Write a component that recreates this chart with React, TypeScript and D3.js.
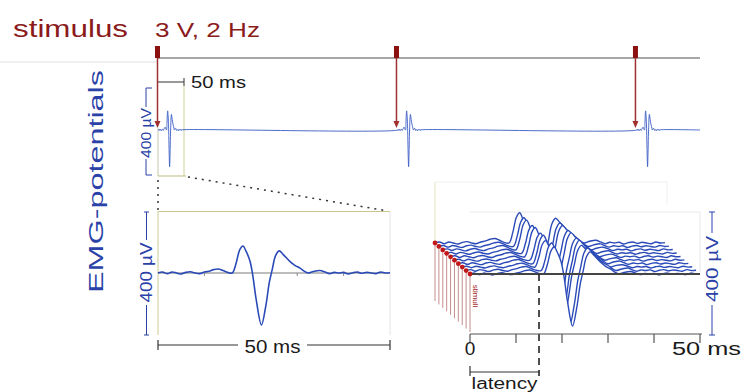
import React from 'react';
import * as d3 from 'd3';

// EMG response template: time after stimulus (ms) and potential (µV)
const emgTime = [0, 1, 2, 3, 4, 5, 6, 7, 8, 9, 10, 11, 12, 13, 14, 15, 16, 16.8, 17.6, 18.3, 19, 19.8, 20.4, 21.2, 22.3, 23.2, 24, 24.6, 25.3, 26.1, 27, 28.4, 29.5, 30.6, 31.5, 32.3, 33.5, 34.9, 36, 37, 38, 39, 40, 41, 42, 43, 44, 45, 46, 47, 48, 49, 50];
const emgValue = [0, 3, -2, 3, 0, -3, 2, 4, 0, -2, 3, 6, 11, 13, 8, 2, 0, 30, 75, 88, 70, 40, -5, -90, -169, -110, -30, 10, 55, 72, 60, 38, 25, 16, 6, 0, 5, 8, 3, -2, 2, 0, 2, -3, 1, 3, -1, 2, 0, -2, 3, 0, 1];

// stimulus train (ms), 2 Hz
const stimulusTimes = [0, 500, 1000];
const sweepEnd = 1134;

// waterfall sweeps (front -> back)
const sweepAmp = [1.0, 1.02, 0.98, 1.05, 1.0, 1.08, 1.03, 1.1, 1.06, 1.12];
const sweepShift = [0, 0.3, -0.2, 0.2, 0.4, 0.1, 0.3, -0.1, 0.2, 0.1];

const axisTicks = [0, 10, 20, 30, 40, 50];
const zoomTicks = [10, 30, 40];
const latencyMs = 15;

const FONT = "'Liberation Sans', Arial, sans-serif";
const RED = '#8b1a1a';
const BLUE = '#2a42a8';
const TRACE = '#2a4ab8';

export default function App() {
  const tpl = emgTime.map((t, i) => [t, emgValue[i]] as [number, number]);

  // ---- top sweep ----
  const topX = d3.scaleLinear().domain([0, sweepEnd]).range([158, 700]);
  const topY = d3.scaleLinear().domain([0, 400]).range([130, 43]);
  const topData: [number, number][] = [];
  stimulusTimes.forEach((s) => tpl.forEach(([t, v]) => topData.push([s + t + 2, v])));
  topData.unshift([0, 0]);
  topData.push([sweepEnd, 0]);
  const topLine = d3
    .line<[number, number]>()
    .x((d) => topX(d[0]))
    .y((d) => topY(d[1]))
    .curve(d3.curveCatmullRom);

  // ---- zoomed panel ----
  const zX = d3.scaleLinear().domain([0, 50]).range([158, 390]);
  const zY = d3.scaleLinear().domain([0, 400]).range([273, 150]);
  const zLine = d3
    .line<[number, number]>()
    .x((d) => zX(d[0]))
    .y((d) => zY(d[1]))
    .curve(d3.curveCatmullRom);

  // ---- waterfall ----
  const wX = d3.scaleLinear().domain([0, 50]).range([470, 700]);
  const wY = d3.scaleLinear().domain([0, 400]).range([274, 151]);
  const depthX = d3.scaleLinear().domain([0, 9]).range([0, -35]);
  const depthY = d3.scaleLinear().domain([0, 9]).range([0, -31]);
  const sweeps = sweepAmp.map((a, k) => {
    const pts = tpl.map(([t, v]) => {
      const tt = t > 15 && t < 35 ? t + sweepShift[k] : t;
      return [wX(tt) + depthX(k), wY(v * a) + depthY(k), wY(0) + depthY(k) + 60] as [number, number, number];
    });
    return pts;
  });
  const wArea = d3
    .area<[number, number, number]>()
    .x((d) => d[0])
    .y1((d) => d[1])
    .y0((d) => d[2])
    .curve(d3.curveCatmullRom);
  const wLine = d3
    .line<[number, number, number]>()
    .x((d) => d[0])
    .y((d) => d[1])
    .curve(d3.curveCatmullRom);
  const order = sweepAmp.map((_, k) => k).reverse();
  const latX = wX(latencyMs);

  return (
    <svg width={742} height={392} style={{ position: 'absolute', left: 0, top: 0, background: '#fff' }} fontFamily={FONT}>
      <rect x={0} y={0} width={742} height={392} fill="#fff" />

      {/* ---- titles ---- */}
      <text x={13} y={37} fontSize={23} fill={RED} textLength={115} lengthAdjust="spacingAndGlyphs">stimulus</text>
      <text x={155} y={37} fontSize={21} fill={RED} textLength={105} lengthAdjust="spacingAndGlyphs">3 V, 2 Hz</text>
      <text transform="translate(103,181.5) rotate(-90)" textAnchor="middle" fontSize={21} fill={BLUE} textLength={223} lengthAdjust="spacingAndGlyphs">EMG-potentials</text>

      {/* ---- stimulus line ---- */}
      <line x1={0} x2={158} y1={62} y2={62} stroke="#e0e0e0" strokeWidth={1} />
      <line x1={158} x2={700} y1={58} y2={58} stroke="#8a8a8a" strokeWidth={1.5} />
      {stimulusTimes.map((s) => {
        const x = topX(s) - 0.5;
        return (
          <g key={s}>
            <rect x={x - 2.5} y={46} width={5} height={12} fill="#8b1010" />
            <line x1={x} x2={x} y1={58} y2={122} stroke="#a03030" strokeWidth={1.5} />
            <polygon points={`${x - 3},${121} ${x + 3},${121} ${x},${128}`} fill="#a03030" />
          </g>
        );
      })}

      {/* 50 ms scale bar top */}
      <line x1={158} x2={184} y1={82} y2={82} stroke="#333" strokeWidth={1} />
      <line x1={184} x2={184} y1={78} y2={86} stroke="#333" strokeWidth={1} />
      <text x={191} y={88} fontSize={17} fill="#1a1a1a" textLength={55} lengthAdjust="spacingAndGlyphs">50 ms</text>

      {/* zoom box */}
      <line x1={184} x2={184} y1={86} y2={176} stroke="#d0d098" strokeWidth={1} />
      <line x1={158} x2={186} y1={176} y2={176} stroke="#c8c890" strokeWidth={1.2} />
      <line x1={158} x2={158} y1={128} y2={176} stroke="#c8c8a8" strokeWidth={1} />
      <line x1={158} x2={158} y1={180} y2={210} stroke="#333" strokeWidth={1.5} strokeDasharray="2 5" />
      <line x1={188} x2={388} y1={177} y2={211} stroke="#333" strokeWidth={1.5} strokeDasharray="2 5" />

      {/* top 400 µV */}
      <line x1={146} x2={146} y1={88} y2={107} stroke={BLUE} strokeWidth={1} />
      <line x1={146} x2={146} y1={159} y2={175} stroke={BLUE} strokeWidth={1} />
      <line x1={146} x2={152} y1={88} y2={88} stroke={BLUE} strokeWidth={1} />
      <line x1={146} x2={152} y1={175} y2={175} stroke={BLUE} strokeWidth={1} />
      <text transform="translate(150.5,133) rotate(-90)" textAnchor="middle" fontSize={14} fill={BLUE} textLength={50} lengthAdjust="spacingAndGlyphs">400 µV</text>

      {/* top trace */}
      <path d={topLine(topData) || ''} fill="none" stroke="#3a5cc4" strokeWidth={1} strokeOpacity={0.9} />

      {/* ---- zoomed panel ---- */}
      <line x1={158} x2={390} y1={211.5} y2={211.5} stroke="#c8c88a" strokeWidth={1.2} />
      <line x1={158} x2={158} y1={211} y2={335} stroke="#d4d4a4" strokeWidth={1.2} />
      <line x1={390} x2={390} y1={211} y2={335} stroke="#e4e4e4" strokeWidth={1} />
      <line x1={158} x2={390} y1={273} y2={273} stroke="#7a7a7a" strokeWidth={1} />
      {zoomTicks.map((t) => (
        <line key={t} x1={zX(t)} x2={zX(t)} y1={273} y2={276} stroke="#888" strokeWidth={1} />
      ))}
      <path d={zLine(tpl) || ''} fill="none" stroke={TRACE} strokeWidth={1.6} />

      {/* zoom 400 µV */}
      <line x1={146.5} x2={146.5} y1={212} y2={240} stroke={BLUE} strokeWidth={1} />
      <line x1={146.5} x2={146.5} y1={305} y2={335} stroke={BLUE} strokeWidth={1} />
      <line x1={144} x2={149} y1={212} y2={212} stroke={BLUE} strokeWidth={1} />
      <line x1={144} x2={149} y1={335} y2={335} stroke={BLUE} strokeWidth={1} />
      <text transform="translate(151.5,272.5) rotate(-90)" textAnchor="middle" fontSize={16} fill={BLUE} textLength={60} lengthAdjust="spacingAndGlyphs">400 µV</text>

      {/* zoom 50 ms */}
      <line x1={158} x2={238} y1={345} y2={345} stroke="#333" strokeWidth={1.2} />
      <line x1={307} x2={390} y1={345} y2={345} stroke="#333" strokeWidth={1.2} />
      <line x1={158} x2={158} y1={340} y2={350} stroke="#333" strokeWidth={1.2} />
      <line x1={390} x2={390} y1={340} y2={350} stroke="#333" strokeWidth={1.2} />
      <text x={272.5} y={353} textAnchor="middle" fontSize={19} fill="#1a1a1a" textLength={56} lengthAdjust="spacingAndGlyphs">50 ms</text>

      {/* ---- waterfall ---- */}
      <line x1={435} x2={435} y1={182} y2={243} stroke="#e6e2c0" strokeWidth={1} />
      <line x1={435} x2={667} y1={182} y2={182} stroke="#efefef" strokeWidth={1} />
      <line x1={667} x2={667} y1={182} y2={205} stroke="#efefef" strokeWidth={1} />
      <line x1={470} x2={700} y1={212} y2={212} stroke="#e8e8e8" strokeWidth={1} />
      <line x1={700} x2={700} y1={212} y2={272} stroke="#e8e8e8" strokeWidth={1} />

      {order.map((k) => (
        <g key={k}>
          <path d={wArea(sweeps[k]) || ''} fill="#fff" stroke="none" />
          <path d={wLine(sweeps[k]) || ''} fill="none" stroke={TRACE} strokeWidth={1.4} />
        </g>
      ))}

      <line x1={470} x2={700} y1={274} y2={274} stroke="#444" strokeWidth={1.8} />

      {/* stimuli markers */}
      {order.map((k) => {
        const x = wX(0) + depthX(k);
        const y = wY(0) + depthY(k);
        return <line key={'l' + k} x1={x} x2={x} y1={y} y2={y + 58} stroke="#c08080" strokeWidth={0.9} />;
      })}
      {order.map((k) => {
        const x = wX(0) + depthX(k);
        const y = wY(0) + depthY(k);
        return <circle key={'c' + k} cx={x} cy={y} r={2.4} fill="#c01818" />;
      })}
      <text transform="translate(473,296) rotate(90)" textAnchor="middle" fontSize={8} fill="#a02020">stimuli</text>

      {/* latency dashed */}
      <line x1={latX} x2={latX} y1={274} y2={376} stroke="#222" strokeWidth={1.6} strokeDasharray="7 5" />

      {/* axis */}
      <line x1={470} x2={702} y1={334} y2={334} stroke="#555" strokeWidth={1.2} />
      {axisTicks.map((t) => (
        <line key={t} x1={wX(t)} x2={wX(t)} y1={334} y2={343} stroke="#555" strokeWidth={1.2} />
      ))}
      <text x={470} y={355} textAnchor="middle" fontSize={19} fill="#1a1a1a">0</text>
      <text x={672} y={355} fontSize={19} fill="#1a1a1a" textLength={69} lengthAdjust="spacingAndGlyphs">50 ms</text>

      {/* latency bracket */}
      <line x1={470} x2={latX} y1={372} y2={372} stroke="#333" strokeWidth={1.2} />
      <line x1={470} x2={470} y1={366} y2={376} stroke="#333" strokeWidth={1.2} />
      <text x={(470 + latX) / 2} y={389} textAnchor="middle" fontSize={16} fill="#1a1a1a" textLength={66} lengthAdjust="spacingAndGlyphs">latency</text>

      {/* right 400 µV */}
      <line x1={712} x2={712} y1={212} y2={233} stroke={BLUE} strokeWidth={1} />
      <line x1={712} x2={712} y1={305} y2={335} stroke={BLUE} strokeWidth={1} />
      <line x1={709} x2={715} y1={212} y2={212} stroke={BLUE} strokeWidth={1} />
      <line x1={709} x2={715} y1={335} y2={335} stroke={BLUE} strokeWidth={1} />
      <text transform="translate(718,269) rotate(-90)" textAnchor="middle" fontSize={16} fill={BLUE} textLength={66} lengthAdjust="spacingAndGlyphs">400 µV</text>
    </svg>
  );
}
